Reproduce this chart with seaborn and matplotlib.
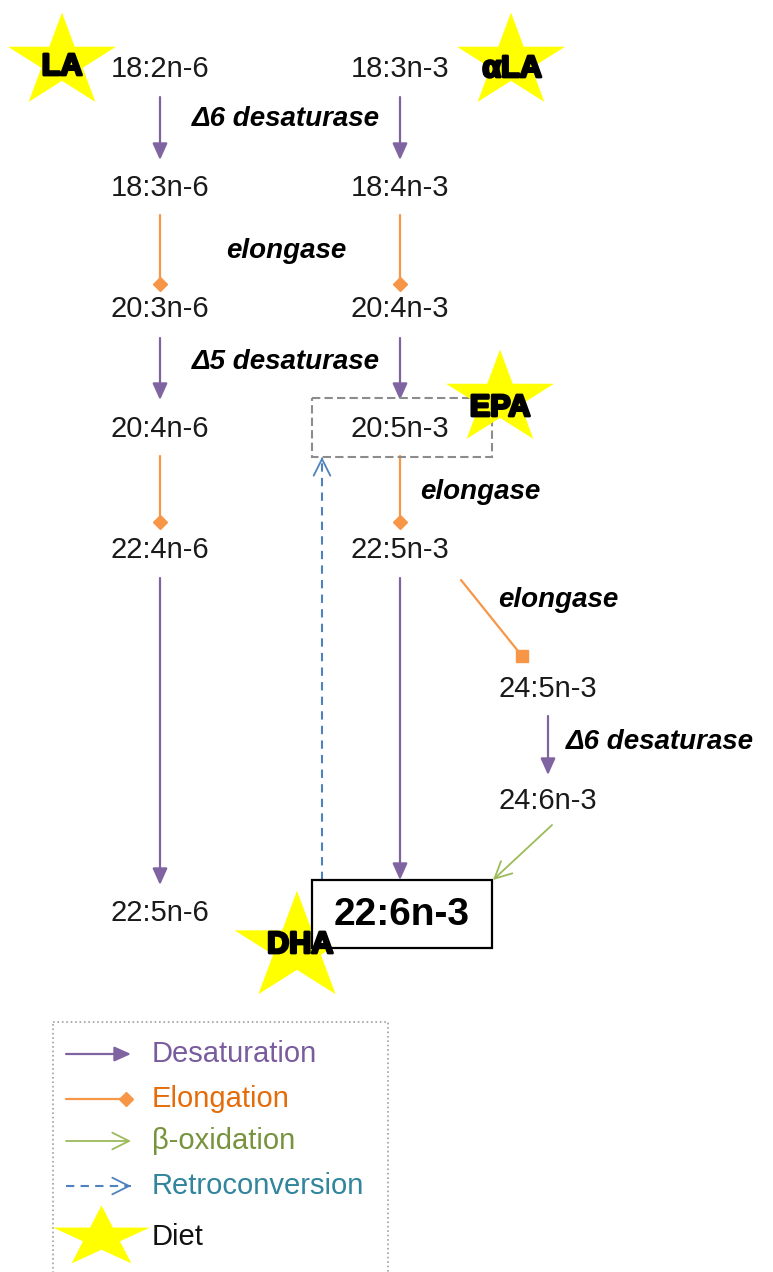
import numpy as np
import matplotlib.pyplot as plt
import matplotlib.patheffects as pe
from matplotlib.markers import MarkerStyle
from matplotlib.patches import Rectangle
import seaborn as sns

sns.set_theme(style="white")
plt.rcParams['font.family'] = ['Liberation Sans', 'DejaVu Sans']

# fatty acid nodes (pixel coordinates, y grows downwards)
node_labels = ["18:2n-6", "18:3n-6", "20:3n-6", "20:4n-6", "22:4n-6", "22:5n-6",
               "18:3n-3", "18:4n-3", "20:4n-3", "20:5n-3", "22:5n-3", "24:5n-3", "24:6n-3"]
node_x = [160, 160, 160, 160, 160, 160, 400, 400, 400, 400, 400, 548, 548]
node_y = [69, 188, 309, 429, 550, 913, 69, 188, 309, 429, 550, 689, 801]

dha_label = "22:6n-3"
dha_xy = (402, 915)

# enzyme labels
enzyme_labels = ["Δ6 desaturase", "elongase", "Δ5 desaturase", "elongase", "elongase", "Δ6 desaturase"]
enzyme_x = [286, 286, 286, 480, 558, 660]
enzyme_y = [119, 251, 362, 492, 600, 742]

# reactions: start -> end
desat_start = [(160, 97), (400, 97), (160, 338), (400, 338), (160, 578), (400, 578), (548, 716)]
desat_end = [(160, 160), (400, 160), (160, 400), (400, 400), (160, 885), (400, 880), (548, 775)]
elong_start = [(160, 215), (400, 215), (160, 456), (400, 456), (461, 580)]
elong_end = [(160, 284), (400, 284), (160, 522), (400, 522), (522, 656)]
elong_tip = ["D", "D", "D", "D", "s"]
beta_start = [(552, 825)]
beta_end = [(493, 880)]
retro_start = [(322, 880)]
retro_end = [(322, 457)]

# dietary sources
star_labels = ["LA", "αLA", "EPA", "DHA"]
star_x = [62, 511, 500, 297]
star_y = [62, 62, 399, 948]
star_size = [6050, 6050, 6050, 8100]
star_text_x = [62, 512, 500, 300]
star_text_y = [67, 69, 408, 945]

legend_labels = ["Desaturation", "Elongation", "β-oxidation", "Retroconversion", "Diet"]
legend_y = [1054, 1099, 1141, 1186, 1237]

PURPLE = "#8064A2"
ORANGE = "#F79646"
GREEN = "#9BBB59"
BLUE = "#4F81BD"
YELLOW = "#FFFF00"
legend_colors = ["#7A5C9E", "#E46C0A", "#77933C", "#31859C", "#111111"]


def star_marker(sx, sy, inner=0.382):
    ang = np.pi / 2 + np.arange(10) * np.pi / 5
    rad = np.where(np.arange(10) % 2 == 0, 1.0, inner)
    verts = np.column_stack([sx * rad * np.cos(ang), sy * rad * np.sin(ang)])
    return MarkerStyle(np.vstack([verts, verts[:1]]))


fig = plt.figure(figsize=(7.73, 12.72), dpi=100)
ax = fig.add_axes([0, 0, 1, 1])


def arrow(p0, p1, color, style, ls="-", lw=1.5, z=2):
    ax.annotate("", xy=p1, xytext=p0,
                arrowprops=dict(arrowstyle=style, color=color, lw=lw, ls=ls,
                                shrinkA=0, shrinkB=0, mutation_scale=10),
                zorder=z)


def desat(p0, p1):
    arrow(p0, p1, PURPLE, "-|>,head_length=1.0,head_width=0.45", lw=1.6)


def elong(p0, p1, tip):
    ax.plot([p0[0], p1[0]], [p0[1], p1[1]], color=ORANGE, lw=1.6, zorder=2)
    ax.plot([p1[0]], [p1[1]], marker=tip, ms=7 if tip == "D" else 8, color=ORANGE,
            mec=ORANGE, zorder=2)


def beta(p0, p1):
    arrow(p0, p1, GREEN, "->,head_length=1.2,head_width=0.6", lw=1.3)


def retro(p0, p1):
    ax.plot([p0[0], p1[0]], [p0[1], p1[1]], color=BLUE, lw=1.5, ls=(0, (4, 3)), zorder=2)
    d = np.array(p1, float) - np.array(p0, float)
    d = d / np.linalg.norm(d)
    arrow(tuple(np.array(p1) - d * 2), p1, BLUE, "->,head_length=1.2,head_width=0.6", lw=1.3)


for p0, p1 in zip(desat_start, desat_end):
    desat(p0, p1)
for p0, p1, t in zip(elong_start, elong_end, elong_tip):
    elong(p0, p1, t)
for p0, p1 in zip(beta_start, beta_end):
    beta(p0, p1)
for p0, p1 in zip(retro_start, retro_end):
    retro(p0, p1)

# boxes
ax.add_patch(Rectangle((312, 398), 180, 59, fill=False, ec="#8C8C8C", lw=1.5,
                       ls=(0, (4, 2)), zorder=2))
ax.add_patch(Rectangle((312, 880), 180, 68, fc="white", ec="black", lw=1.6, zorder=4))

# stars
sns.scatterplot(x=star_x, y=star_y, marker=star_marker(1.15, 1.0), s=star_size,
                color=YELLOW, edgecolor="none", linewidth=0, ax=ax, legend=False, zorder=3)

for lab, x, y in zip(star_labels, star_text_x, star_text_y):
    ax.text(x, y, lab, ha="center", va="center", fontsize=22, fontweight="bold",
            color="black", zorder=6,
            path_effects=[pe.withStroke(linewidth=2.0, foreground="black")])

for lab, x, y in zip(node_labels, node_x, node_y):
    ax.text(x, y, lab, ha="center", va="center", fontsize=21, color="#1a1a1a", zorder=5)

ax.text(dha_xy[0], dha_xy[1], dha_label, ha="center", va="center", fontsize=28,
        fontweight="bold", color="black", zorder=5)

for lab, x, y in zip(enzyme_labels, enzyme_x, enzyme_y):
    ax.text(x, y, lab, ha="center", va="center", fontsize=20, fontweight="bold",
            style="italic", color="black", zorder=5)

# legend
ax.add_patch(Rectangle((53, 1022), 335, 270, fill=False, ec="#A0A0A0", lw=1.2, ls=":",
                       zorder=1))
desat((66, legend_y[0]), (131, legend_y[0]))
elong((66, legend_y[1]), (126, legend_y[1]), "D")
beta((66, legend_y[2]), (131, legend_y[2]))
retro((66, legend_y[3]), (131, legend_y[3]))

ax.scatter([101], [1237], marker=star_marker(1.0, 0.63), s=4870, color=YELLOW, lw=0,
           zorder=3)

for lab, y, c in zip(legend_labels, legend_y, legend_colors):
    ax.text(152, y, lab, ha="left", va="center", fontsize=21, color=c, zorder=5)

ax.set_xlim(0, 773)
ax.set_ylim(1272, 0)
ax.axis("off")

fig.savefig("out.png", dpi=100)
